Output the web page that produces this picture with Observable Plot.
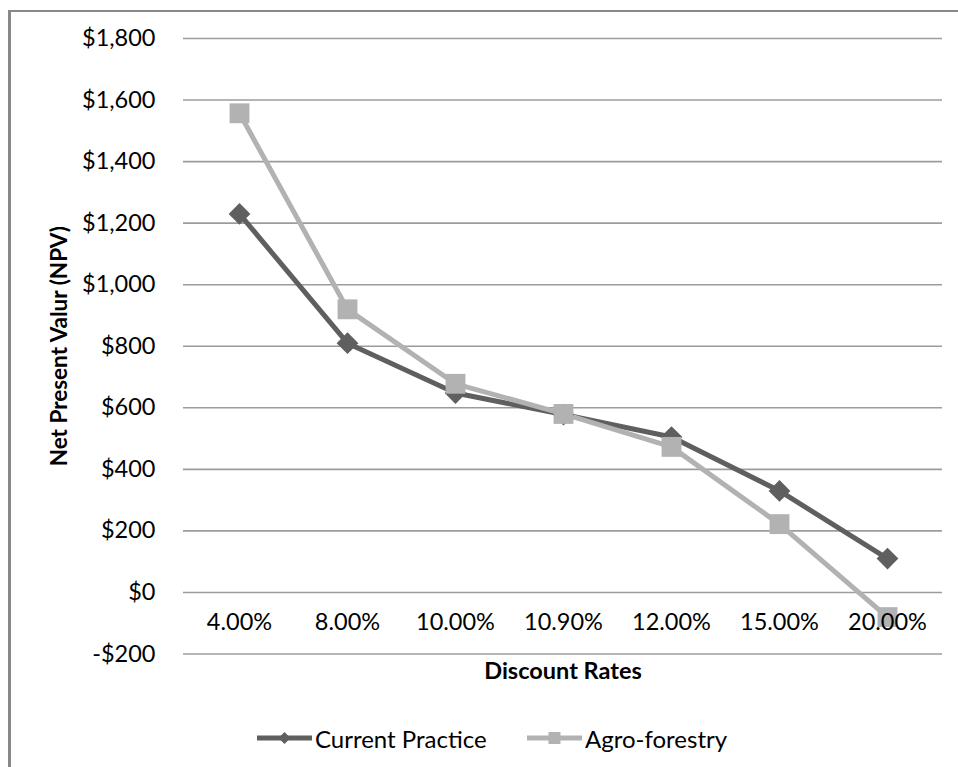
<!DOCTYPE html>
<html>
<head>
<meta charset="utf-8">
<script src="https://cdn.jsdelivr.net/npm/d3@7"></script>
<script src="https://cdn.jsdelivr.net/npm/@observablehq/plot@0.6"></script>
<style>
  html, body { margin: 0; padding: 0; background: #fff; }
  body { width: 958px; height: 767px; position: relative; overflow: hidden; font-family: Lato, "Open Sans", sans-serif; }
  #frame { position: absolute; left: 8px; top: 10px; width: 960px; height: 780px;
           border-left: 3px solid #888; border-top: 2.5px solid #888; box-sizing: border-box; }
  #chart { position: absolute; left: 0; top: 0; }
  #legend { position: absolute; top: 722px; left: 0; width: 958px; height: 32px; font-size: 24px; color: #000; }
  .item { position: absolute; top: 0; height: 32px; display: flex; align-items: center; }
  .item svg { margin-right: 3px; }
</style>
</head>
<body>
<div id="frame"></div>
<div id="chart"></div>
<div id="legend"></div>
<script>
const rates = ["4.00%", "8.00%", "10.00%", "10.90%", "12.00%", "15.00%", "20.00%"];
const currentPractice = [1230, 810, 648, 578, 505, 330, 110];
const agroForestry = [1557, 920, 678, 580, 473, 222, -80];
const yTicks = [-200, 0, 200, 400, 600, 800, 1000, 1200, 1400, 1600, 1800];
const seriesNames = ["Current Practice", "Agro-forestry"];
const seriesColors = ["#5f5f5f", "#b2b2b2"];

const rows = [];
rates.forEach((r, i) => {
  rows.push({rate: r, value: currentPractice[i], series: seriesNames[0]});
  rows.push({rate: r, value: agroForestry[i], series: seriesNames[1]});
});
const cur = rows.filter(d => d.series === seriesNames[0]);
const agro = rows.filter(d => d.series === seriesNames[1]);

const money = d => (d < 0 ? "-" : "") + "$" + d3.format(",")(Math.abs(d));

const chart = Plot.plot({
  width: 958,
  height: 700,
  marginLeft: 183,
  marginRight: 16,
  marginTop: 38,
  marginBottom: 46.5,
  style: {fontFamily: "Lato, 'Open Sans', sans-serif", fontSize: "23.5px", color: "#000", background: "transparent", overflow: "visible"},
  x: {type: "point", domain: rates, padding: 0.5, axis: null},
  y: {domain: [-200, 1800], axis: null},
  marks: [
    Plot.gridY(yTicks, {stroke: "#9c9c9c", strokeOpacity: 1, strokeWidth: 1.6}),
    Plot.axisY(yTicks, {tickSize: 0, tickPadding: 28, tickFormat: money, label: null, fontSize: 23.5}),
    Plot.line(cur, {x: "rate", y: "value", stroke: seriesColors[0], strokeWidth: 5}),
    Plot.line(agro, {x: "rate", y: "value", stroke: seriesColors[1], strokeWidth: 5}),
    Plot.dot(cur, {x: "rate", y: "value", symbol: "diamond2", r: 9.8, fill: seriesColors[0], stroke: "none"}),
    Plot.dot(agro, {x: "rate", y: "value", symbol: "square", r: 11.2, fill: seriesColors[1], stroke: "none"}),
    Plot.text(rates, {x: d => d, y: () => 0, dy: 30, text: d => d, fontSize: 23.5, fill: "#000"}),
    Plot.text(["Discount Rates"], {frameAnchor: "bottom", dy: 25, fontWeight: "bold", fontSize: 23.5, fill: "#000"}),
    Plot.text(["Net Present Valur (NPV)"], {frameAnchor: "left", textAnchor: "middle", rotate: -90, dx: -124, fontWeight: "bold", fontSize: 22.5, fill: "#000"})
  ]
});
document.getElementById("chart").appendChild(chart);

// legend
const legend = document.getElementById("legend");
const legendPos = [257, 527];
seriesNames.forEach((name, i) => {
  const item = document.createElement("div");
  item.className = "item";
  item.style.left = legendPos[i] + "px";
  const marker = i === 0
    ? `<polygon points="27.5,10 33.5,16 27.5,22 21.5,16" fill="${seriesColors[i]}"/>`
    : `<rect x="21.5" y="10" width="12" height="12" fill="${seriesColors[i]}"/>`;
  item.innerHTML = `<svg width="55" height="32"><line x1="0" x2="55" y1="16" y2="16" stroke="${seriesColors[i]}" stroke-width="5"/>${marker}</svg><span>${name}</span>`;
  legend.appendChild(item);
});
</script>
</body>
</html>
